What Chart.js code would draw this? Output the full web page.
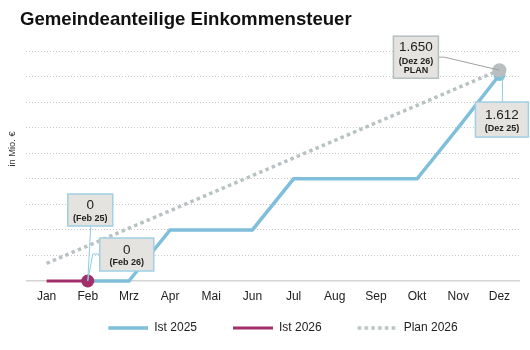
<!DOCTYPE html>
<html>
<head>
<meta charset="utf-8">
<script src="https://cdn.jsdelivr.net/npm/chart.js@4"></script>
<style>
html, body { margin: 0; padding: 0; background: #fff; }
</style>
</head>
<body>
<canvas id="einkommensteuer" width="530" height="350"></canvas>
<script>
// Werte in Mio. €
var monate = ['Jan', 'Feb', 'Mrz', 'Apr', 'Mai', 'Jun', 'Jul', 'Aug', 'Sep', 'Okt', 'Nov', 'Dez'];
var ist2025 = [null, 0, 0, 400, 400, 400, 800, 800, 800, 800, 1200, 1612];
var ist2026 = [0, 0, null, null, null, null, null, null, null, null, null, null];
var plan2026 = [138, 275, 413, 550, 688, 825, 963, 1100, 1238, 1375, 1513, 1650];
var serien = ['Ist 2025', 'Ist 2026', 'Plan 2026'];

var blau = '#80bfdb';
var lila = '#a12f6a';
var grau = '#b8c2c2';
var schrift = '"Liberation Sans", Arial, sans-serif';

Chart.defaults.font.family = schrift;

function zahl(v) {
	return String(v).replace(/\B(?=(\d{3})+(?!\d))/g, '.');
}

// kleine Bilder fuer die Legende
function icon(farbe, gepunktet, dicke) {
	var cv = document.createElement('canvas');
	cv.width = 66;
	cv.height = 4;
	var c = cv.getContext('2d');
	c.fillStyle = farbe;
	if (gepunktet) {
		for (var x = 26; x < 64; x += 6.8) {
			c.fillRect(x, 0.25, 3.5, 3.5);
		}
	} else {
		c.fillRect(26, (4 - dicke) / 2, 40, dicke);
	}
	return cv;
}
var icons = [icon(blau, false, 3.5), icon(lila, false, 3), icon(grau, true, 3.5)];

function kasten(c, x, y, w, h, rand, zeilen) {
	c.fillStyle = '#e5e3df';
	c.fillRect(x, y, w, h);
	c.strokeStyle = rand;
	c.lineWidth = 1.5;
	c.strokeRect(x, y, w, h);
	c.fillStyle = '#222';
	c.textAlign = 'center';
	c.textBaseline = 'middle';
	for (var i in zeilen) {
		c.font = zeilen[i][2] + ' ' + schrift;
		c.fillText(zeilen[i][0], x + w / 2, y + zeilen[i][1]);
	}
}

function linie(c, farbe, punkte) {
	c.beginPath();
	c.strokeStyle = farbe;
	c.lineWidth = 1;
	c.moveTo(punkte[0][0], punkte[0][1]);
	for (var i = 1; i < punkte.length; i++) {
		c.lineTo(punkte[i][0], punkte[i][1]);
	}
	c.stroke();
}

var beschriftung = {
	id: 'beschriftung',
	afterDatasetsDraw: function(chart) {
		var c = chart.ctx;
		var a = chart.getDatasetMeta(0).data;
		var b = chart.getDatasetMeta(1).data;
		var p = chart.getDatasetMeta(2).data;
		c.save();

		// Plan Dez 26
		var pd = p[11];
		linie(c, '#a0a0a0', [[pd.x - 61, pd.y - 13], [pd.x - 55, pd.y - 13], [pd.x, pd.y]]);
		kasten(c, pd.x - 106, pd.y - 34, 45, 42, '#b5bebe', [
			[zahl(plan2026[11]), 11.5, '13.5px'],
			['(' + monate[11] + ' 26)', 25, 'bold 9px'],
			['PLAN', 34.5, 'bold 9px']
		]);

		// Ist Dez 25
		var ad = a[11];
		linie(c, '#8ecbe2', [[ad.x + 3, ad.y + 2], [ad.x + 3, ad.y + 27]]);
		kasten(c, ad.x - 24, ad.y + 27, 53, 35, '#9fd0e4', [
			[zahl(ist2025[11]), 13.5, '13.5px'],
			['(' + monate[11] + ' 25)', 26, 'bold 9px']
		]);

		// Ist Feb 25
		var af = a[1];
		linie(c, '#8ecbe2', [[af.x + 3, af.y - 55], [af.x, af.y]]);
		kasten(c, af.x - 20, af.y - 87, 45, 32, '#9fd0e4', [
			[zahl(ist2025[1]), 11.7, '13.5px'],
			['(' + monate[1] + ' 25)', 25, 'bold 9px']
		]);

		// Ist Feb 26
		var bf = b[1];
		linie(c, '#8ecbe2', [[bf.x + 12, bf.y - 27], [bf.x + 5, bf.y - 27], [bf.x, bf.y]]);
		kasten(c, bf.x + 12, bf.y - 43, 54, 33, '#9fd0e4', [
			[zahl(ist2026[1]), 12, '13.5px'],
			['(' + monate[1] + ' 26)', 25, 'bold 9px']
		]);
		c.restore();
	},
	afterDraw: function(chart) {
		var c = chart.ctx;
		c.save();
		c.translate(12.7, 149);
		c.rotate(-Math.PI / 2);
		c.font = '9.3px ' + schrift;
		c.fillStyle = '#333';
		c.textAlign = 'center';
		c.textBaseline = 'middle';
		c.fillText('in Mio. €', 0, 0);
		c.restore();
	}
};

var ctx = document.getElementById('einkommensteuer');

var chart = new Chart(ctx, {
	type: 'line',
	data: {
		labels: monate,
		datasets: [
			{
				label: serien[0],
				data: ist2025,
				borderColor: blau,
				backgroundColor: blau,
				borderWidth: 3.5,
				pointRadius: function(c) { return c.dataIndex === 11 ? 6 : 0; },
				pointBorderWidth: 0,
				clip: false,
				order: 2
			},
			{
				label: serien[1],
				data: ist2026,
				borderColor: lila,
				backgroundColor: lila,
				borderWidth: 3,
				pointRadius: function(c) { return c.dataIndex === 1 ? 6.5 : 0; },
				pointBorderWidth: 0,
				clip: false,
				order: 0
			},
			{
				label: serien[2],
				data: plan2026,
				borderColor: grau,
				backgroundColor: '#b9bfc1',
				borderWidth: 3.5,
				borderDash: [3.5, 3.3],
				pointRadius: function(c) { return c.dataIndex === 11 ? 7 : 0; },
				pointBorderWidth: 0,
				clip: false,
				order: 1
			}
		]
	},
	options: {
		responsive: false,
		animation: false,
		devicePixelRatio: 1,
		layout: { padding: { left: 20, right: 10, top: 0, bottom: 6 } },
		plugins: {
			title: {
				display: true,
				text: 'Gemeindeanteilige Einkommensteuer',
				align: 'start',
				color: '#111',
				font: { size: 18.6, weight: 'bold' },
				padding: { top: 8.6, bottom: 20.1 }
			},
			legend: {
				position: 'bottom',
				labels: {
					usePointStyle: true,
					pointStyleWidth: 66,
					padding: 10,
					color: '#222',
					font: { size: 12 },
					generateLabels: function(chart) {
						return chart.data.datasets.map(function(ds, i) {
							return {
								text: ds.label,
								pointStyle: icons[i],
								datasetIndex: i,
								hidden: false,
								fontColor: '#222',
								lineWidth: 0,
								strokeStyle: 'transparent',
								fillStyle: 'transparent'
							};
						});
					}
				}
			},
			tooltip: { enabled: false }
		},
		scales: {
			x: {
				offset: true,
				grid: { display: false, drawTicks: false },
				border: { display: false },
				ticks: { padding: 8, color: '#222', font: { size: 12 } },
				afterFit: function(s) { s.height = 31; }
			},
			y: {
				min: 0,
				max: 1800,
				ticks: { stepSize: 200, display: false },
				grid: {
					drawTicks: false,
					color: function(c) { return c.tick && c.tick.value === 0 ? '#d4d4d4' : '#c8c8c8'; },
					lineWidth: function(c) { return c.tick && c.tick.value === 0 ? 1.5 : 1; }
				},
				border: {
					display: false,
					dash: function(c) { return c.tick && c.tick.value === 0 ? [] : [1, 2]; }
				},
				afterFit: function(s) { s.width = 6; }
			}
		}
	},
	plugins: [beschriftung]
});
</script>
</body>
</html>
